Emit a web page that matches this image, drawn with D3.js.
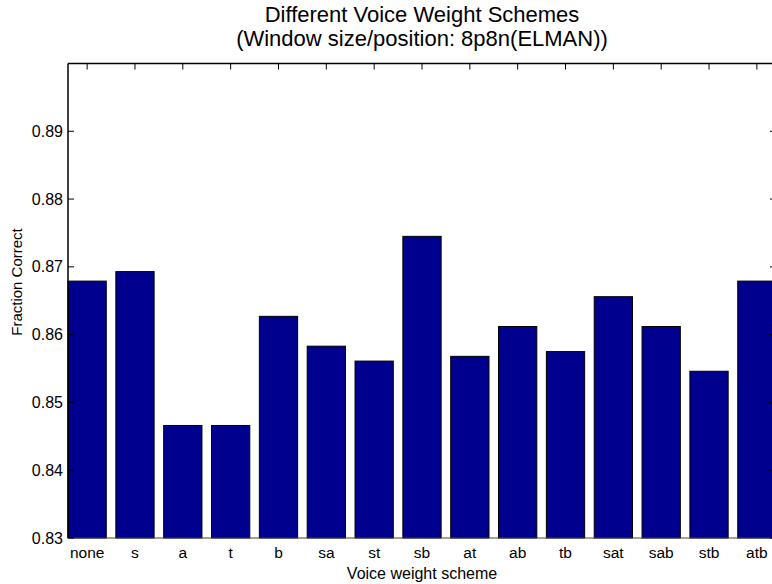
<!DOCTYPE html>
<html>
<head>
<meta charset="utf-8">
<script src="https://cdn.jsdelivr.net/npm/d3@7"></script>
<style>
body { margin: 0; background: #fff; }
text { font-family: "Liberation Sans", Arial, sans-serif; fill: #000; }
</style>
</head>
<body>
<div id="chart-area"></div>
<script>
const schemes = ['none','s','a','t','b','sa','st','sb','at','ab','tb','sat','sab','stb','atb']
const fractionCorrect = [0.8679,0.8693,0.8466,0.8466,0.8627,0.8583,0.8561,0.8745,0.8568,0.8612,0.8575,0.8656,0.8612,0.8546,0.8679]
const yTicks = [0.83,0.84,0.85,0.86,0.87,0.88,0.89]

const W = 772, H = 584
const AX = {LEFT:68, RIGHT:776, TOP:63.5, BOTTOM:538}

const svg = d3.select('#chart-area')
.append('svg')
.attr('width',W)
.attr('height',H)

const x = d3.scaleLinear()
.domain([0.6, schemes.length + 0.4])
.range([AX.LEFT, AX.RIGHT])

const y = d3.scaleLinear()
.domain([0.83, 0.90])
.range([AX.BOTTOM, AX.TOP])

const barW = x(1.8) - x(1)

// bars
svg.append('g')
.selectAll('rect')
.data(fractionCorrect)
.enter().append('rect')
.attr('x',(d,i)=>x(i+1) - barW/2)
.attr('y',d=>y(d))
.attr('width',barW)
.attr('height',d=>y(0.83) - y(d))
.attr('fill','#00008f')
.attr('stroke','#000')
.attr('stroke-width',1)

// axis box
const box = svg.append('g').attr('stroke','#000').attr('stroke-width',1.5).attr('fill','none')
box.append('line').attr('x1',AX.LEFT).attr('x2',AX.LEFT).attr('y1',AX.TOP).attr('y2',AX.BOTTOM)
box.append('line').attr('x1',AX.LEFT).attr('x2',AX.RIGHT).attr('y1',AX.TOP).attr('y2',AX.TOP)
box.append('line').attr('x1',AX.LEFT).attr('x2',AX.RIGHT).attr('y1',AX.BOTTOM).attr('y2',AX.BOTTOM).attr('stroke','#444').attr('stroke-width',1)
box.append('line').attr('x1',AX.RIGHT).attr('x2',AX.RIGHT).attr('y1',AX.TOP).attr('y2',AX.BOTTOM)

// inward ticks
const tk = svg.append('g').attr('stroke','#000').attr('stroke-width',1)
yTicks.forEach(v=>{
	tk.append('line').attr('x1',AX.LEFT).attr('x2',AX.LEFT+6).attr('y1',y(v)).attr('y2',y(v))
	tk.append('line').attr('x1',AX.RIGHT-6).attr('x2',AX.RIGHT).attr('y1',y(v)).attr('y2',y(v))
})
schemes.forEach((s,i)=>{
	tk.append('line').attr('x1',x(i+1)).attr('x2',x(i+1)).attr('y1',AX.TOP).attr('y2',AX.TOP+6)
})

// tick labels
svg.append('g')
.selectAll('text')
.data(yTicks)
.enter().append('text')
.attr('x',AX.LEFT-5)
.attr('y',d=>y(d)+5.5)
.attr('text-anchor','end')
.style('font-size','16px')
.text(d=>d3.format('.2f')(d))

svg.append('g')
.selectAll('text')
.data(schemes)
.enter().append('text')
.attr('x',(d,i)=>x(i+1))
.attr('y',558)
.attr('text-anchor','middle')
.style('font-size','15.5px')
.text(d=>d)

svg.append('text')
.attr('x',(AX.LEFT+AX.RIGHT)/2)
.attr('y',579)
.attr('text-anchor','middle')
.style('font-size','16px')
.text('Voice weight scheme')

svg.append('text')
.attr('transform',`translate(22,282) rotate(-90)`)
.attr('text-anchor','middle')
.style('font-size','15px')
.text('Fraction Correct')

const title = svg.append('text')
.attr('text-anchor','middle')
.style('font-size','22px')
title.append('tspan').attr('x',(AX.LEFT+AX.RIGHT)/2).attr('y',22).text('Different Voice Weight Schemes')
title.append('tspan').attr('x',(AX.LEFT+AX.RIGHT)/2).attr('y',46).text('(Window size/position: 8p8n(ELMAN))')
</script>
</body>
</html>
